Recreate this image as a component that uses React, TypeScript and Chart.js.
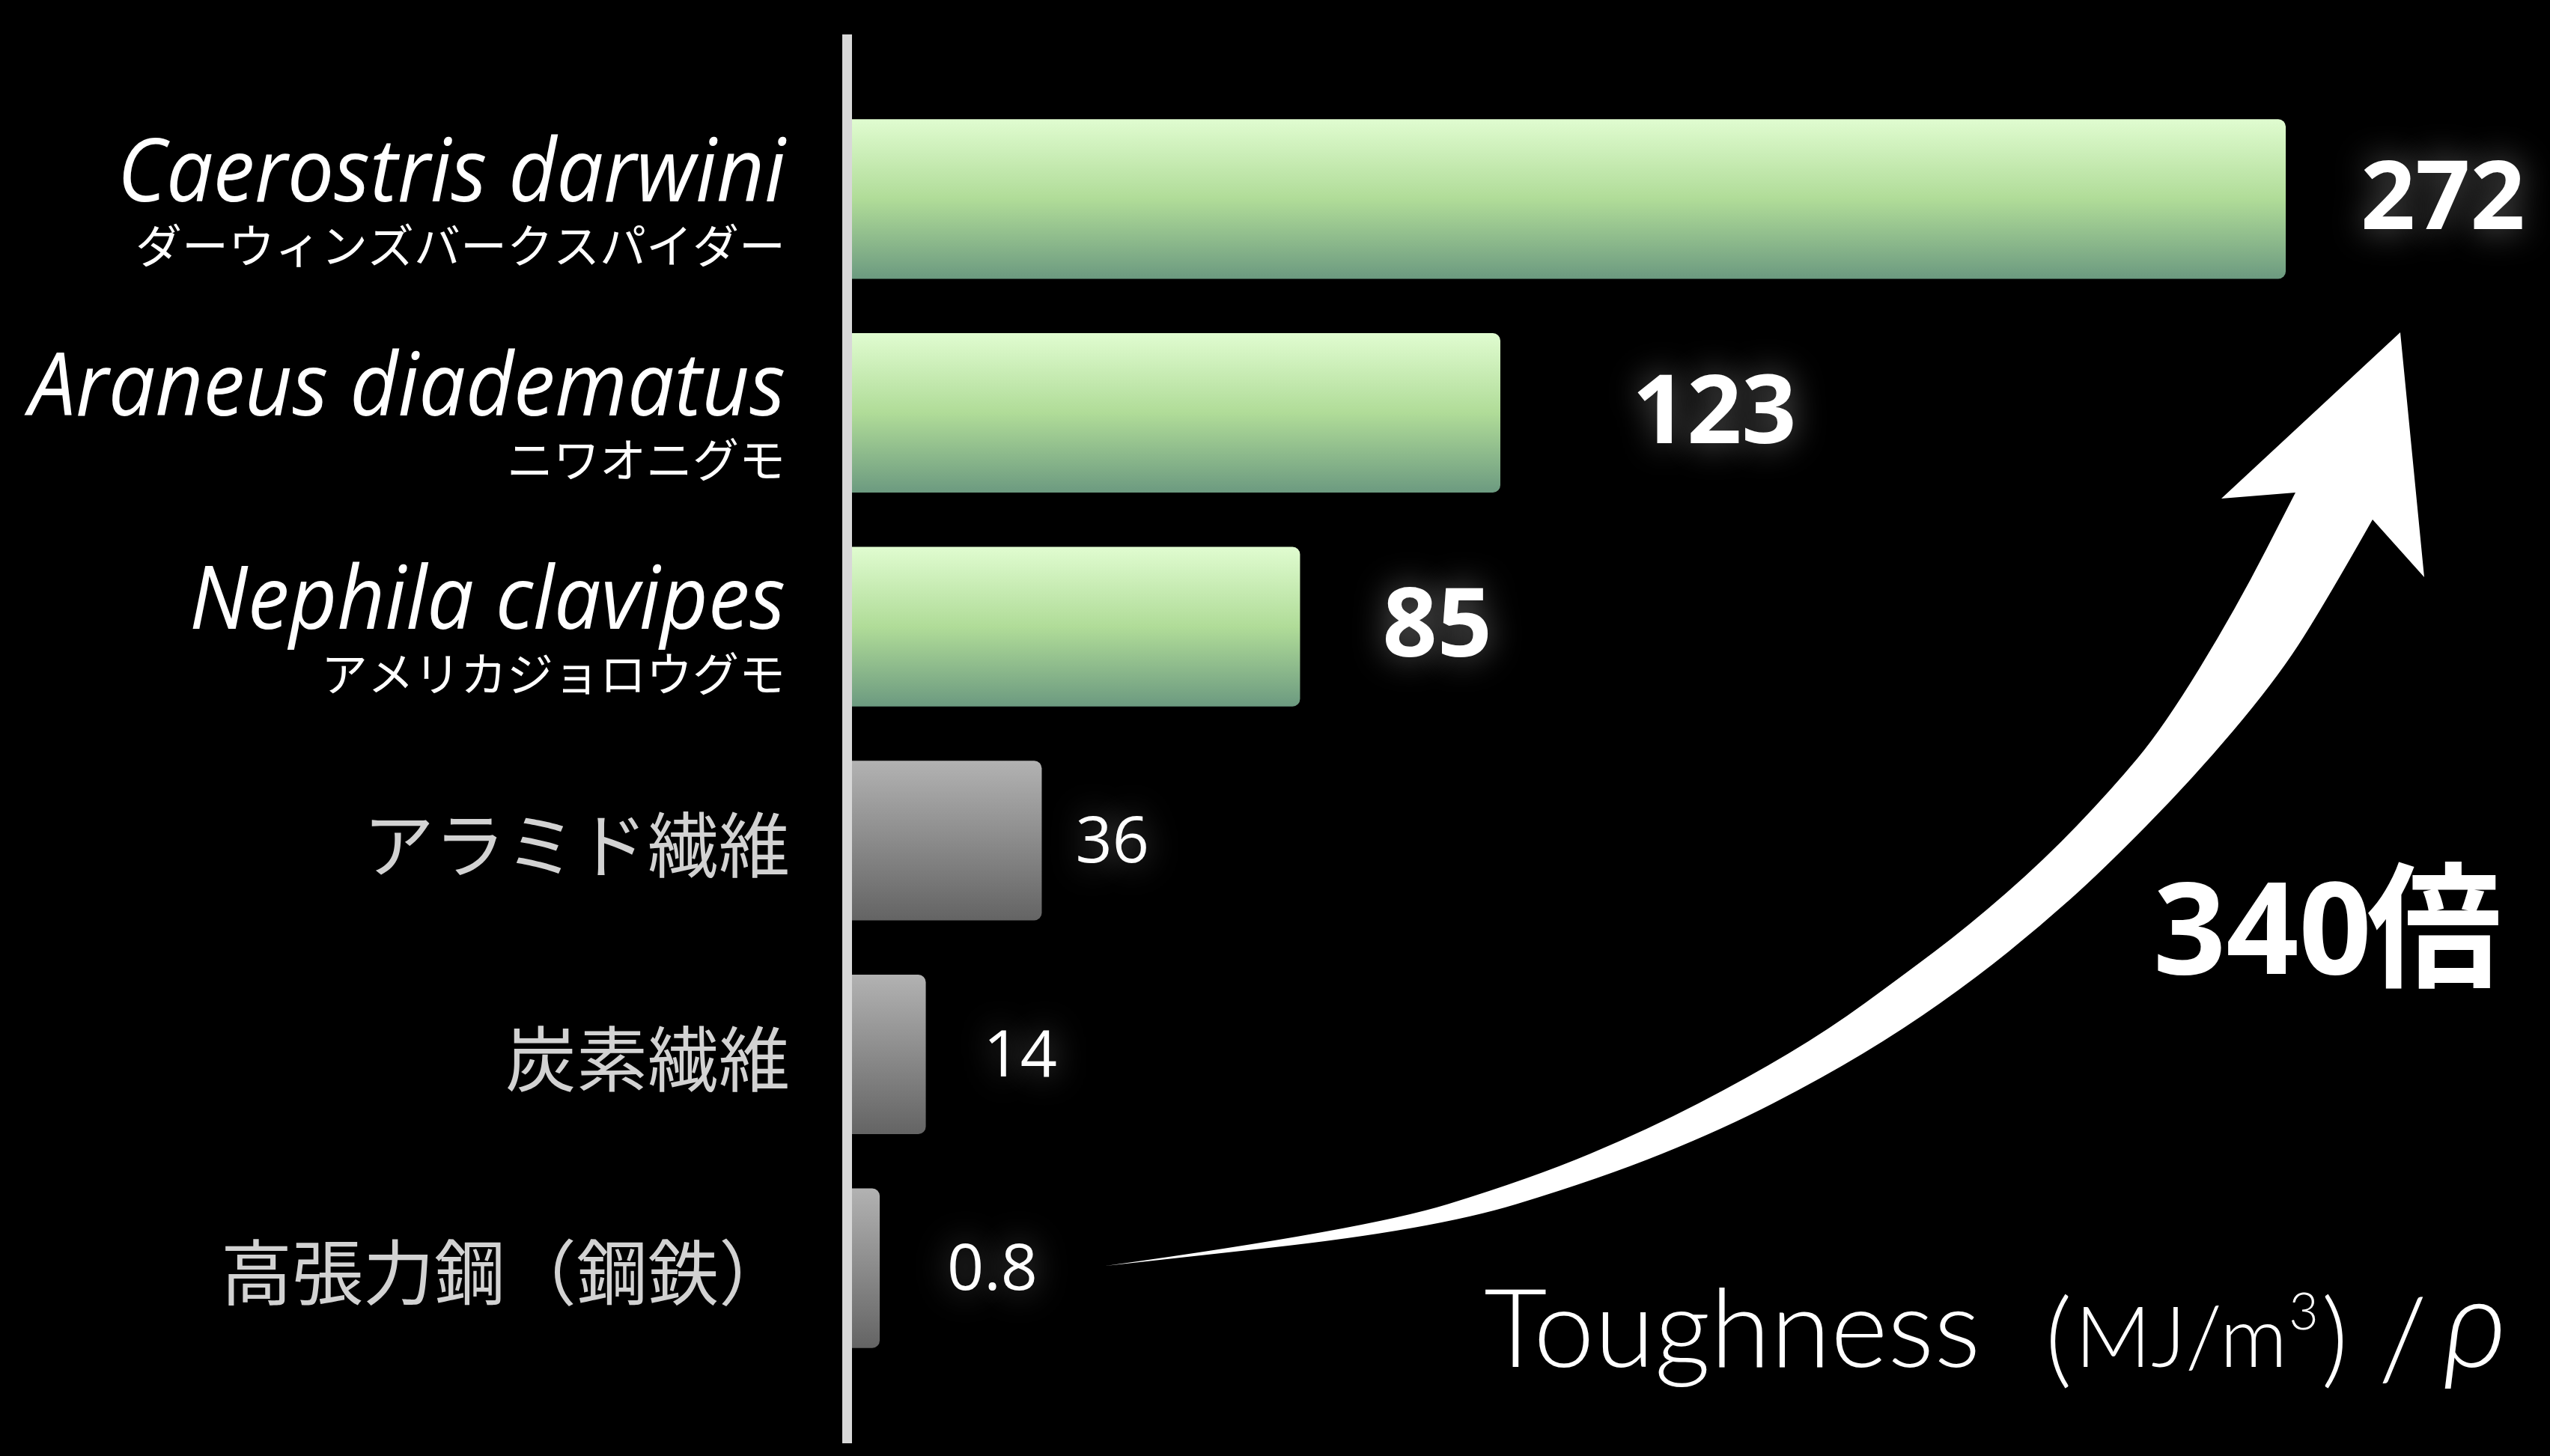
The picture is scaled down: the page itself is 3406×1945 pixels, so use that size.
import React, { useEffect, useRef } from "react";
import { Chart, registerables } from "chart.js";

Chart.register(...registerables);

const W = 3406;
const H = 1945;

// ---- data ----
const categoryKeys = ["darwini", "diadematus", "clavipes", "aramid", "carbon", "steel"];
const latinNames = ["Caerostris darwini", "Araneus diadematus", "Nephila clavipes", "", "", ""];
const japaneseNames = [
  "ダーウィンズバークスパイダー",
  "ニワオニグモ",
  "アメリカジョロウグモ",
  "アラミド繊維",
  "炭素繊維",
  "高張力鋼（鋼鉄）",
];
const isSpiderSilk = [true, true, true, false, false, false];
const toughnessValues = [272, 123, 85, 36, 14, 0.8];
const valueLabels = ["272", "123", "85", "36", "14", "0.8"];
const ratioText = "340倍";
const axisMax = 320;

// ---- layout tweaks for value labels (px nudges, style only) ----
const valueLabelNudge = [0, 76, 10, -45, -13, 0];

// ---- decoration (arrow outline, canvas px) ----
const arrowUpper: [number, number][] = [
  [1477, 1691], [1822, 1643], [2046, 1574], [2203, 1508], [2334, 1440], [2443, 1375],
  [2539, 1305], [2628, 1238], [2730, 1149], [2820, 1055], [2890, 971], [2986, 814], [3066, 658],
];
const arrowHead: [number, number][] = [[2967, 666], [3206, 444], [3238, 771], [3169, 694]];
const arrowLower: [number, number][] = [
  [3169, 694], [3101, 814], [3037, 912], [2929, 1040], [2807, 1164], [2724, 1238], [2641, 1305],
  [2542, 1375], [2434, 1440], [2302, 1508], [2139, 1574], [1912, 1643], [1477, 1691],
];

const LATIN_FONT = '"Open Sans", "Noto Sans", sans-serif';
const CJK_FONT = '"Noto Sans CJK JP", "Noto Sans", sans-serif';
const LIGHT_FONT = 'Lato, "Open Sans", sans-serif';

function smoothTo(ctx: CanvasRenderingContext2D, pts: [number, number][]) {
  for (let i = 1; i < pts.length - 1; i++) {
    const mx = (pts[i][0] + pts[i + 1][0]) / 2;
    const my = (pts[i][1] + pts[i + 1][1]) / 2;
    ctx.quadraticCurveTo(pts[i][0], pts[i][1], mx, my);
  }
  const last = pts[pts.length - 1];
  ctx.lineTo(last[0], last[1]);
}

const decorPlugin = {
  id: "decor",
  beforeDraw(chart: any) {
    const ctx = chart.ctx as CanvasRenderingContext2D;
    ctx.save();
    ctx.fillStyle = "#000";
    ctx.fillRect(0, 0, chart.width, chart.height);
    ctx.restore();
  },
  afterDatasetsDraw(chart: any) {
    const ctx = chart.ctx as CanvasRenderingContext2D;
    const ys = chart.scales.y;
    const area = chart.chartArea;
    const meta = chart.getDatasetMeta(0);

    // vertical axis line
    ctx.save();
    ctx.fillStyle = "#d8d8d8";
    ctx.fillRect(area.left - 13, 46, 13, 1882);
    ctx.restore();

    // category labels
    const labelRight = area.left - 89;
    for (let i = 0; i < categoryKeys.length; i++) {
      const yc = ys.getPixelForValue(i);
      ctx.save();
      if (isSpiderSilk[i]) {
        ctx.fillStyle = "#ffffff";
        ctx.textBaseline = "alphabetic";
        ctx.textAlign = "right";
        ctx.font = `italic 400 118px ${LATIN_FONT}`;
        ctx.save();
        ctx.translate(labelRight, yc + 3);
        ctx.scale(0.94, 1);
        ctx.fillText(latinNames[i], 0, 0);
        ctx.restore();
        ctx.font = `400 62px ${CJK_FONT}`;
        ctx.textBaseline = "middle";
        ctx.fillText(japaneseNames[i], labelRight, yc + 63);
      } else {
        ctx.fillStyle = "#d2d2d2";
        ctx.textAlign = "right";
        ctx.textBaseline = "middle";
        ctx.font = `400 95px ${CJK_FONT}`;
        ctx.fillText(japaneseNames[i], labelRight + 6, yc + 6);
      }
      ctx.restore();
    }

    // value labels with glow
    for (let i = 0; i < toughnessValues.length; i++) {
      const el = meta.data[i];
      const yc = ys.getPixelForValue(i);
      const bold = isSpiderSilk[i];
      ctx.save();
      ctx.fillStyle = "#ffffff";
      ctx.textAlign = "left";
      ctx.textBaseline = "alphabetic";
      ctx.shadowColor = "rgba(255,255,255,0.4)";
      ctx.shadowBlur = 45;
      if (bold) {
        ctx.font = `700 128px ${LATIN_FONT}`;
        ctx.fillText(valueLabels[i], el.x + 100 + valueLabelNudge[i], yc + 40);
      } else {
        ctx.font = `400 86px ${LATIN_FONT}`;
        ctx.fillText(valueLabels[i], el.x + 90 + valueLabelNudge[i], yc + 29);
      }
      ctx.restore();
    }

    // arrow
    ctx.save();
    ctx.fillStyle = "#ffffff";
    ctx.beginPath();
    ctx.moveTo(arrowUpper[0][0], arrowUpper[0][1]);
    smoothTo(ctx, arrowUpper);
    for (const p of arrowHead) ctx.lineTo(p[0], p[1]);
    smoothTo(ctx, arrowLower);
    ctx.closePath();
    ctx.fill();
    ctx.restore();

    // 340倍
    ctx.save();
    ctx.fillStyle = "#ffffff";
    ctx.textBaseline = "alphabetic";
    ctx.textAlign = "left";
    const digits = ratioText.replace("倍", "");
    ctx.font = `700 170px ${LATIN_FONT}`;
    ctx.fillText(digits, 2876, 1301);
    const dw = ctx.measureText(digits).width;
    ctx.font = `700 180px ${CJK_FONT}`;
    ctx.fillText("倍", 2876 + dw - 6, 1304);
    ctx.restore();

    // axis title: Toughness（MJ/m3）/ ρ
    ctx.save();
    ctx.fillStyle = "#ffffff";
    ctx.textBaseline = "alphabetic";
    ctx.textAlign = "left";
    const segs: { t: string; f: string; gap: number; dy: number }[] = [
      { t: "Toughness", f: `300 146px ${LIGHT_FONT}`, gap: 0, dy: 0 },
      { t: "(", f: `300 140px ${LIGHT_FONT}`, gap: 86, dy: 10 },
      { t: "MJ/m", f: `300 112px ${LIGHT_FONT}`, gap: 4, dy: 0 },
      { t: "3", f: `300 68px ${LIGHT_FONT}`, gap: 2, dy: -50 },
      { t: ")", f: `300 140px ${LIGHT_FONT}`, gap: 4, dy: 10 },
      { t: "/", f: `300 150px ${LIGHT_FONT}`, gap: 40, dy: 16 },
      { t: "ρ", f: `italic 300 165px ${LIGHT_FONT}`, gap: 22, dy: 0 },
    ];
    let x = 1982;
    const base = 1826;
    for (const s of segs) {
      x += s.gap;
      ctx.font = s.f;
      ctx.fillText(s.t, x, base + s.dy);
      x += ctx.measureText(s.t).width;
    }
    ctx.restore();
  },
};

export default function App() {
  const ref = useRef<HTMLCanvasElement>(null);

  useEffect(() => {
    const canvas = ref.current;
    if (!canvas) return;
    const n = toughnessValues.length;
    const chart = new Chart(canvas, {
      type: "bar",
      data: {
        labels: categoryKeys,
        datasets: [
          {
            data: toughnessValues,
            barPercentage: 0.746,
            categoryPercentage: 1,
            borderRadius: 10,
            borderSkipped: "start",
            minBarLength: 37,
            backgroundColor: (c: any) => {
              const spider = isSpiderSilk[c.dataIndex];
              const fallback = spider ? "#b0dc98" : "#8a8a8a";
              const ch = c.chart;
              const ys = ch.scales?.y;
              if (!ys || c.dataIndex === undefined) return fallback;
              const yc = ys.getPixelForValue(c.dataIndex);
              const half = ((ys.bottom - ys.top) / n) * 0.746 / 2;
              if (!isFinite(yc) || !isFinite(half) || half <= 0) return fallback;
              const g = ch.ctx.createLinearGradient(0, yc - half, 0, yc + half);
              if (spider) {
                g.addColorStop(0, "#e0fcd0");
                g.addColorStop(0.5, "#b0dc98");
                g.addColorStop(1, "#6c9a80");
              } else {
                g.addColorStop(0, "#b2b2b2");
                g.addColorStop(1, "#646464");
              }
              return g;
            },
          },
        ],
      },
      options: {
        indexAxis: "y",
        responsive: false,
        animation: false,
        devicePixelRatio: 1,
        layout: { padding: { left: 1138, right: 15, top: 123, bottom: 108 } },
        plugins: { legend: { display: false }, tooltip: { enabled: false } },
        scales: {
          x: { type: "linear", min: 0, max: axisMax, display: false },
          y: { type: "category", display: false },
        },
      },
      plugins: [decorPlugin],
    } as any);
    return () => chart.destroy();
  }, []);

  return (
    <div style={{ position: "fixed", left: 0, top: 0, width: W, height: H, background: "#000" }}>
      <canvas ref={ref} width={W} height={H} style={{ display: "block", width: W, height: H }} />
    </div>
  );
}
